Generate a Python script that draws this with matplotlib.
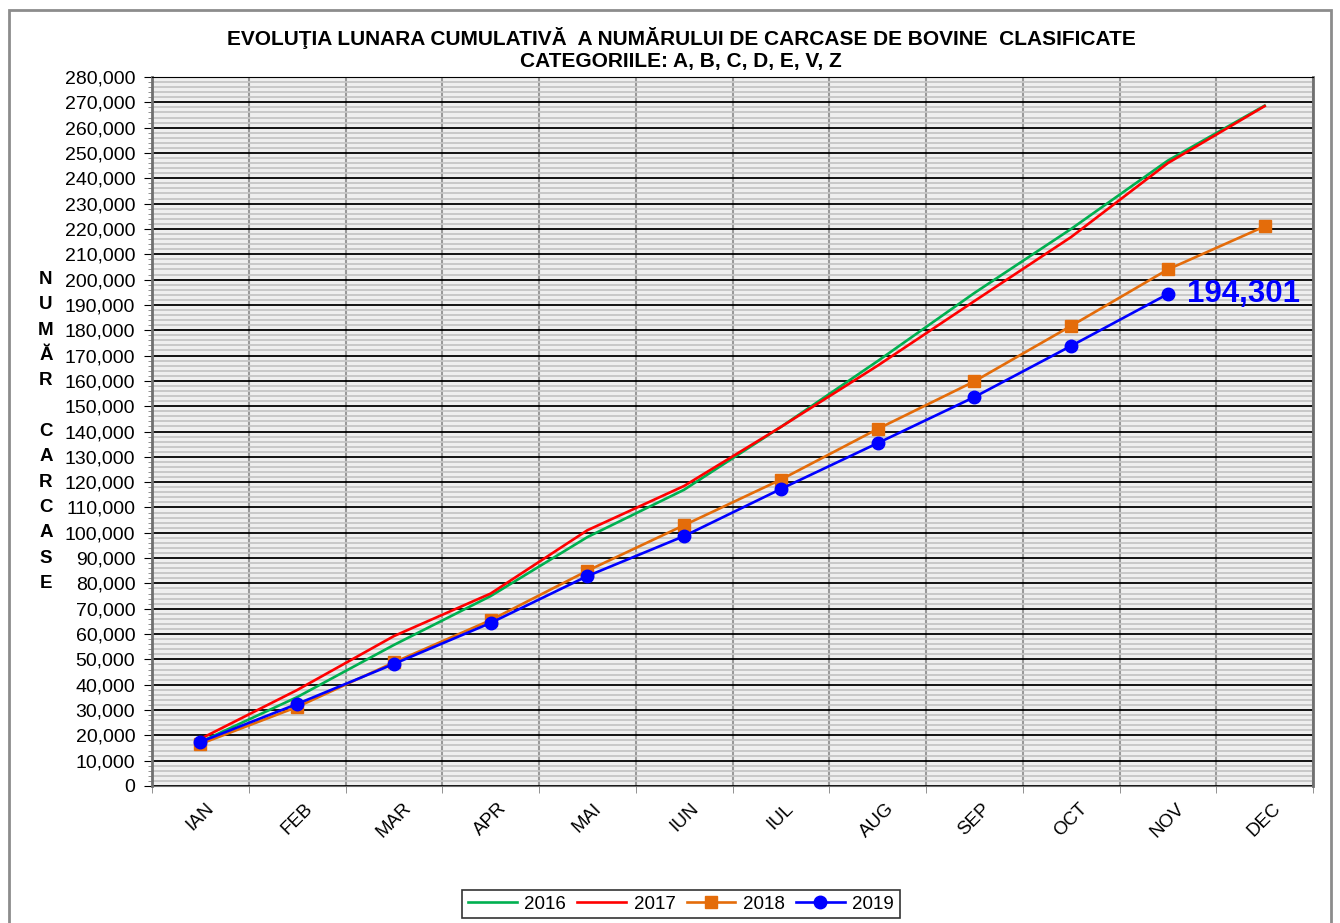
import matplotlib
matplotlib.use("Agg")
import matplotlib.pyplot as plt
from matplotlib.ticker import MultipleLocator, FuncFormatter, FixedLocator
from matplotlib.patches import Rectangle
from matplotlib.transforms import blended_transform_factory

plt.rcParams['font.family'] = ['Liberation Sans', 'DejaVu Sans']

months = ["IAN", "FEB", "MAR", "APR", "MAI", "IUN", "IUL", "AUG", "SEP", "OCT", "NOV", "DEC"]
v2016 = [17400, 35100, 55700, 75000, 98300, 117000, 141800, 167800, 194700, 220000, 247000, 268700]
v2017 = [18600, 37900, 59200, 76000, 101000, 118500, 141800, 166000, 191500, 216800, 246000, 268500]
v2018 = [16600, 31200, 48800, 65500, 85000, 103000, 121000, 141000, 159800, 181700, 204000, 221000]
v2019 = [17400, 32400, 48200, 64400, 82900, 98700, 117300, 135400, 153600, 173800, 194301]
ylabel_letters = ["N", "U", "M", "Ă", "R", "", "C", "A", "R", "C", "A", "S", "E"]

fig = plt.figure(figsize=(13.4, 9.23), dpi=100)
ax = fig.add_axes([152/1340, 1-786/923, (1313-152)/1340, (786-77)/923])
ax.set_facecolor('#efefef')

x = list(range(len(months)))
ax.plot(x, v2016, color='#00b050', lw=1.9, label='2016', zorder=3)
ax.plot(x, v2017, color='#ff0000', lw=1.9, label='2017', zorder=3)
ax.plot(x, v2018, color='#e46c0a', lw=1.9, marker='s', ms=8, label='2018', zorder=4)
ax.plot(x[:len(v2019)], v2019, color='#0000ff', lw=1.9, marker='o', ms=9, label='2019', zorder=5)

ax.annotate(f"{v2019[-1]:,}", xy=(len(v2019)-1, v2019[-1]), xytext=(14, 0),
            textcoords='offset points', color='#0000ff', fontsize=22.5, fontweight='bold',
            va='center', ha='left', zorder=6)

ax.set_xlim(-0.5, 11.5)
ax.set_ylim(0, 280000)
ax.yaxis.set_major_locator(MultipleLocator(10000))
ax.yaxis.set_minor_locator(MultipleLocator(2000))
ax.yaxis.set_major_formatter(FuncFormatter(lambda v, p: f"{int(v):,}"))
ax.set_xticks(x)
ax.set_xticklabels(months, rotation=45, ha='center', va='top')
ax.xaxis.set_minor_locator(FixedLocator([i + 0.5 for i in range(-1, 12)]))
ax.tick_params(axis='x', which='major', length=0, pad=10, labelsize=13.5)
ax.tick_params(axis='x', which='minor', length=5, color='#808080')
ax.tick_params(axis='y', which='major', length=6, labelsize=14, pad=6)
ax.tick_params(axis='y', which='minor', length=3, color='#808080')

ax.grid(which='minor', axis='y', color='#c6c6c6', lw=1.3, zorder=0)
ax.grid(which='major', axis='y', color='#000000', lw=1.3, zorder=1)
ax.grid(which='minor', axis='x', color='#9a9a9a', lw=1.5, zorder=1)
ax.grid(which='major', axis='x', visible=False)
ax.set_axisbelow(True)
for s in ['left', 'right']:
    ax.spines[s].set_color('#707070')
    ax.spines[s].set_linewidth(2)
ax.spines['bottom'].set_color('#707070')
ax.spines['top'].set_color('#000000')

tr = blended_transform_factory(fig.transFigure, ax.transData)
for i, ch in enumerate(ylabel_letters):
    ax.text(46/1340, 200000 - i*10000, ch, transform=tr,
            ha='center', va='center', fontsize=13.5, fontweight='bold')

fig.text(681/1340, 1-38/923, "EVOLUŢIA LUNARA CUMULATIVĂ  A NUMĂRULUI DE CARCASE DE BOVINE  CLASIFICATE",
         ha='center', va='center', fontsize=15, fontweight='bold')
fig.text(681/1340, 1-62/923, "CATEGORIILE: A, B, C, D, E, V, Z",
         ha='center', va='center', fontsize=15, fontweight='bold')

leg = fig.legend(loc='center', bbox_to_anchor=(681/1340, 1-904/923), ncol=4, frameon=True,
                 fancybox=False, edgecolor='black', fontsize=13.5, handlelength=2.6,
                 columnspacing=0.6, handletextpad=0.4, borderpad=0.3)
leg.get_frame().set_linewidth(1.2)

fig.patches.append(Rectangle((9/1340, -0.01), (1331-9)/1340, 1.01-10/923, transform=fig.transFigure,
                             fill=False, edgecolor='#8c8c8c', lw=2))

fig.savefig("out.png", dpi=100)
